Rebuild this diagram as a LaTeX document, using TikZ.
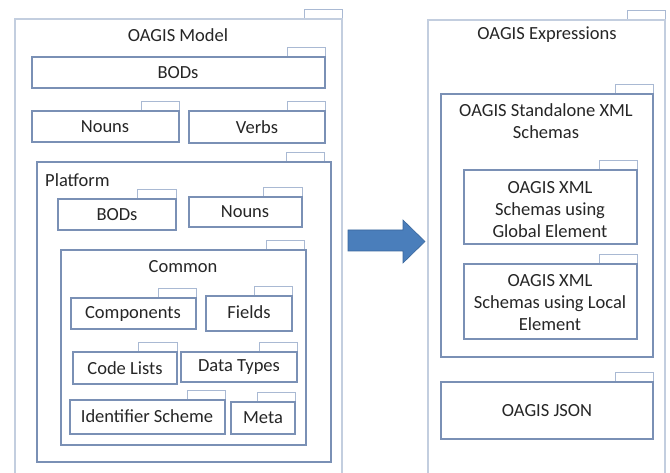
\documentclass[tikz,border=0pt]{standalone}
\usepackage{fontspec}
\setmainfont{Carlito}
\usetikzlibrary{fit}
\definecolor{boxc}{HTML}{7A90B5}
\definecolor{outc}{HTML}{C3CEDF}
\definecolor{tabc}{HTML}{A9B9D3}
\definecolor{txtc}{HTML}{262626}
\definecolor{arrf}{HTML}{4A7EBB}
\definecolor{arrd}{HTML}{3A679C}
\tikzset{
  inbox/.style={draw=boxc, line width=1.1pt, fill=white, inner sep=0pt},
  outbox/.style={draw=outc, line width=1.1pt, fill=white, inner sep=0pt},
  tabsty/.style={draw=tabc, line width=0.9pt, fill=white, inner sep=0pt},
  lbl/.style={text=txtc, font=\fontsize{18.5}{22}\selectfont, inner sep=0pt, align=center},
}
\newcommand\pkgbox[8]{%
  \node[tabsty, fit={(#7,{#4-9.5}) (#8,#4)}] (#1tab) {};
  \node[#2, fit={(#3,#4) (#5,#6)}] (#1) {};
}
\begin{document}
\begin{tikzpicture}[x=1pt,y=-1pt]
\useasboundingbox (0,0) rectangle (670,473);
% left package
\pkgbox{model}{outbox}{15}{19}{342}{495}{304}{342}
\node[lbl] (modelt) at (178,35) {OAGIS Model};
\pkgbox{bods}{inbox}{32}{57}{325}{88}{287}{325}
\node[lbl] (bodst) at (178,73) {BODs};
\pkgbox{nouns}{inbox}{32}{111}{179}{142}{141}{179}
\node[lbl] (nounst) at (105,127) {Nouns};
\pkgbox{verbs}{inbox}{189}{111}{325}{143}{287}{325}
\node[lbl] (verbst) at (257,127) {Verbs};
\pkgbox{platform}{inbox}{37}{162}{331}{462}{286}{324}
\node[lbl, anchor=west] (platformt) at (45,180) {Platform};
\pkgbox{pbods}{inbox}{58}{199}{176}{230}{137}{176}
\node[lbl] (pbodst) at (117,215) {BODs};
\pkgbox{pnouns}{inbox}{189}{197}{302}{227}{263}{302}
\node[lbl] (pnounst) at (245,212) {Nouns};
\pkgbox{common}{inbox}{61}{250}{306}{445}{266}{304}
\node[lbl] (commont) at (183,267) {Common};
\pkgbox{comp}{inbox}{71}{298}{196}{329}{158}{196}
\node[lbl] (compt) at (133,314) {Components};
\pkgbox{fields}{inbox}{206}{296}{292}{331}{254}{292}
\node[lbl] (fieldst) at (249,312) {Fields};
\pkgbox{codes}{inbox}{73}{352}{177}{384}{138}{177}
\node[lbl] (codest) at (125,368) {Code Lists};
\pkgbox{dtypes}{inbox}{181}{352}{297}{382}{259}{297}
\node[lbl] (dtypest) at (239,367) {Data Types};
\pkgbox{ident}{inbox}{70}{400}{225}{434}{187}{225}
\node[lbl] (identt) at (147,416) {Identifier Scheme};
\pkgbox{meta}{inbox}{231}{402}{295}{434}{257}{295}
\node[lbl] (metat) at (263,418) {Meta};
% arrow
\fill[arrf, draw=arrd, line width=0.6pt] (348,230) -- (403,230) -- (403,220) -- (425,241.5) -- (403,263) -- (403,251) -- (348,251) -- cycle;
% right package
\pkgbox{expr}{outbox}{428}{20}{665}{495}{627}{665}
\node[lbl] (exprt) at (547,35) {OAGIS Expressions};
\pkgbox{stand}{inbox}{441}{94}{653}{357}{615}{653}
\node[lbl] (standt) at (546,121) {OAGIS Standalone XML\\Schemas};
\pkgbox{glob}{inbox}{464}{170}{637}{244}{599}{637}
\node[lbl] (globt) at (550,210) {OAGIS XML\\Schemas using\\Global Element};
\pkgbox{loc}{inbox}{464}{264}{637}{339}{599}{637}
\node[lbl] (loct) at (550,303) {OAGIS XML\\Schemas using Local\\Element};
\pkgbox{json}{inbox}{441}{382}{653}{439}{615}{653}
\node[lbl] (jsont) at (547,411) {OAGIS JSON};
\end{tikzpicture}
\end{document}
